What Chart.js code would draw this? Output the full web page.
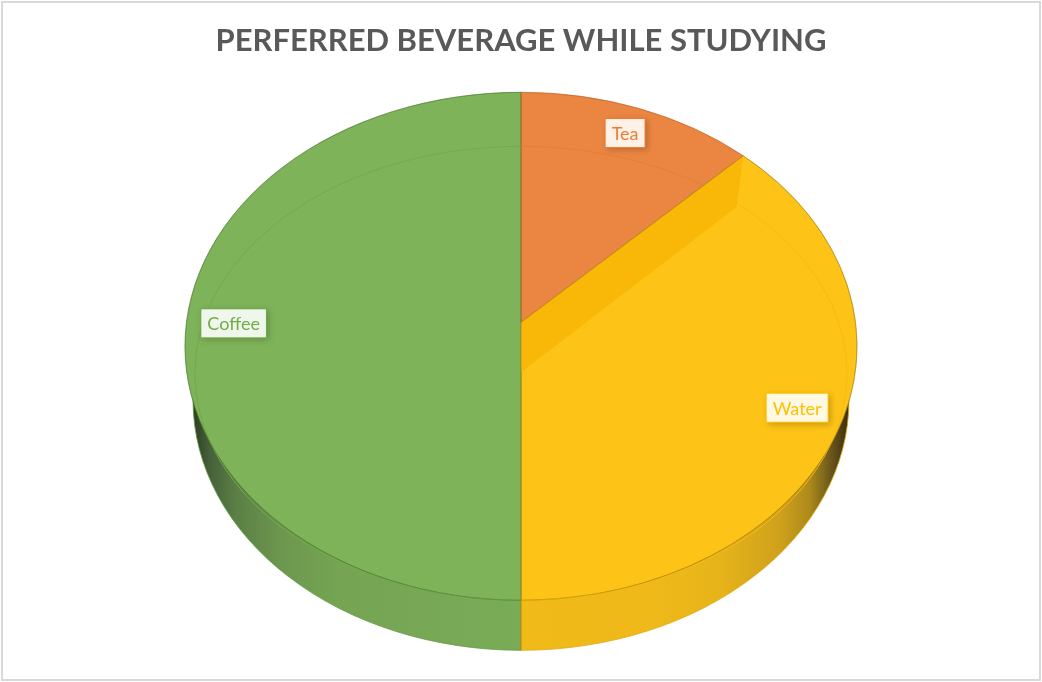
<!DOCTYPE html>
<html>
<head>
<meta charset="utf-8">
<title>Perferred beverage while studying</title>
<script src="https://cdn.jsdelivr.net/npm/chart.js@4"></script>
<style>
    html, body { margin: 0; padding: 0; background: #fff; }
    #wrap { position: relative; width: 1042px; height: 682px; overflow: hidden; }
    #frame { position: absolute; left: 1px; top: 1px; width: 1040px; height: 680px; box-sizing: border-box; border: 2px solid #d9d9d9; pointer-events: none; }
    canvas { display: block; }
</style>
</head>
<body>
<div id="wrap">
    <canvas id="chart" width="1042" height="682"></canvas>
    <div id="frame"></div>
</div>
<script>
// Data
const categories = ['Tea', 'Water', 'Coffee'];
const shares = [11.5, 38.5, 50];
const chartTitle = 'PERFERRED BEVERAGE WHILE STUDYING';

// Colours
const topColors = ['#eb8642', '#fec317', '#7eb35a'];
const textColors = ['#ed7d31', '#ffc000', '#70ad47'];
const edgeColors = ['rgba(190,100,40,0.55)', 'rgba(170,130,20,0.6)', 'rgba(70,120,40,0.55)'];
const ringColors = ['#e47e3a', '#f6bb12', '#74a952'];

// Look of the tilted pie
const RADIUS = 336;
const SQUASH = 254 / 336;
const INNER_RX = 326, INNER_RY = 227, INNER_DROP = 27; // flat face inside the bevel
const PIVOT_RISE = 24;                                 // tea corner sits above the centre
const WALL_RX = 328, WALL_RY = 250, WALL_DROP = 54;    // bottom edge of the side wall
const LABEL_REACH = 0.885;
const labelNudge = [[-1, -3], [-2, -18], [10, -23]];

function wallGradient(ctx, x0, x1, stops) {
    const g = ctx.createLinearGradient(x0, 0, x1, 0);
    stops.forEach(s => g.addColorStop(s[0], s[1]));
    return g;
}

const tiltedPie = {
    id: 'tiltedPie',
    beforeDatasetsDraw(chart) {
        const ctx = chart.ctx;
        const arc = chart.getDatasetMeta(0).data[0];
        const cx = arc.x, cy = arc.y;

        // Side wall first, the top of the pie covers most of it
        ctx.save();
        ctx.lineWidth = 1;
        ctx.beginPath();
        ctx.ellipse(cx, cy + WALL_DROP, WALL_RX, WALL_RY, 0, Math.PI / 2, Math.PI * 1.5);
        ctx.closePath();
        ctx.fillStyle = wallGradient(ctx, cx - WALL_RX, cx, [
            [0, '#2f3d24'], [0.05, '#46603a'], [0.13, '#5b7f45'], [0.27, '#6d974f'], [0.45, '#75a553'], [1, '#7aab57']
        ]);
        ctx.fill();
        ctx.strokeStyle = 'rgba(100,155,70,0.8)';
        ctx.stroke();
        ctx.beginPath();
        ctx.ellipse(cx, cy + WALL_DROP, WALL_RX, WALL_RY, 0, -Math.PI / 2, Math.PI / 2);
        ctx.closePath();
        ctx.fillStyle = wallGradient(ctx, cx, cx + WALL_RX, [
            [0, '#f0bb18'], [0.42, '#eeb919'], [0.61, '#e6b31a'], [0.79, '#cfa11b'], [0.88, '#ad8a1b'], [0.94, '#6f5a1c'], [1, '#3a2e12']
        ]);
        ctx.fill();
        ctx.strokeStyle = 'rgba(225,170,15,0.8)';
        ctx.stroke();
        ctx.strokeStyle = 'rgba(150,110,20,0.55)';
        ctx.beginPath();
        ctx.moveTo(cx, cy + 254);
        ctx.lineTo(cx, cy + WALL_DROP + WALL_RY);
        ctx.stroke();
        ctx.restore();

        // Everything the library draws for the slices goes through the tilt
        ctx.save();
        ctx.translate(cx, cy);
        ctx.scale(1, SQUASH);
        ctx.translate(-cx, -cy);
    },
    afterDatasetsDraw(chart) {
        const ctx = chart.ctx;
        ctx.restore();

        const arcs = chart.getDatasetMeta(0).data;
        const cx = arcs[0].x, cy = arcs[0].y;

        // Bevel ring on each slice, plus the dark outer rim
        arcs.forEach((a, i) => {
            ctx.beginPath();
            ctx.ellipse(cx, cy + INNER_DROP, INNER_RX, INNER_RY, 0, a.startAngle, a.endAngle);
            ctx.strokeStyle = ringColors[i];
            ctx.lineWidth = 1;
            ctx.stroke();
            ctx.beginPath();
            ctx.ellipse(cx, cy, a.outerRadius, a.outerRadius * SQUASH, 0, a.startAngle, a.endAngle);
            ctx.strokeStyle = edgeColors[i];
            ctx.lineWidth = 0.75;
            ctx.stroke();
        });

        // Inner wall where the tea slice stands above the water slice
        const end = arcs[0].endAngle;
        const rimX = cx + Math.cos(end) * RADIUS, rimY = cy + Math.sin(end) * RADIUS * SQUASH;
        const lowX = cx + Math.cos(end) * INNER_RX, lowY = cy + INNER_DROP + Math.sin(end) * INNER_RY + 4;
        ctx.beginPath();
        ctx.moveTo(rimX, rimY);
        ctx.lineTo(lowX, lowY);
        ctx.lineTo(cx, cy + INNER_DROP - 1);
        ctx.lineTo(cx, cy - PIVOT_RISE);
        ctx.closePath();
        ctx.fillStyle = '#f9b807';
        ctx.fill();
        ctx.lineWidth = 1;
        ctx.beginPath();
        ctx.moveTo(cx, cy - PIVOT_RISE);
        ctx.lineTo(rimX, rimY);
        ctx.strokeStyle = 'rgba(170,130,20,0.8)';
        ctx.stroke();

        // Centre line between coffee and the other two
        ctx.beginPath();
        ctx.moveTo(cx, cy - 254);
        ctx.lineTo(cx, cy - PIVOT_RISE);
        ctx.strokeStyle = 'rgba(190,100,40,0.7)';
        ctx.stroke();
        ctx.beginPath();
        ctx.moveTo(cx, cy - PIVOT_RISE);
        ctx.lineTo(cx, cy + 254);
        ctx.strokeStyle = 'rgba(170,140,30,0.8)';
        ctx.stroke();

        // Data labels
        ctx.font = '18px Lato';
        ctx.textAlign = 'center';
        ctx.textBaseline = 'middle';
        arcs.forEach((a, i) => {
            const mid = (a.startAngle + a.endAngle) / 2;
            const x = cx + Math.cos(mid) * RADIUS * LABEL_REACH + labelNudge[i][0];
            const y = cy + Math.sin(mid) * RADIUS * SQUASH * LABEL_REACH + labelNudge[i][1];
            const w = ctx.measureText(categories[i]).width + 12;
            const h = 28;
            ctx.save();
            ctx.shadowColor = 'rgba(0,0,0,0.2)';
            ctx.shadowBlur = 6;
            ctx.shadowOffsetX = 2;
            ctx.shadowOffsetY = 2;
            ctx.fillStyle = textColors[i];
            ctx.fillRect(x - w / 2 - 1, y - h / 2 - 1, w + 2, h + 2);
            ctx.restore();
            ctx.fillStyle = 'rgba(255,255,255,0.89)';
            ctx.fillRect(x - w / 2, y - h / 2, w, h);
            ctx.fillStyle = textColors[i];
            ctx.fillText(categories[i], x, y + 1);
        });
    }
};

new Chart(document.getElementById('chart'), {
    type: 'pie',
    data: {
        labels: categories,
        datasets: [{
            data: shares,
            backgroundColor: topColors,
            borderColor: edgeColors,
            borderWidth: 1,
            radius: RADIUS,
            clip: false
        }]
    },
    options: {
        responsive: false,
        animation: false,
        events: [],
        layout: { padding: { top: 0, bottom: 50 } },
        plugins: {
            legend: { display: false },
            tooltip: { enabled: false },
            title: {
                display: true,
                text: chartTitle,
                color: '#595959',
                font: { family: 'Lato', size: 31, weight: 'bold' },
                padding: { top: 22.4, bottom: 1 }
            }
        }
    },
    plugins: [tiltedPie]
});
</script>
</body>
</html>
